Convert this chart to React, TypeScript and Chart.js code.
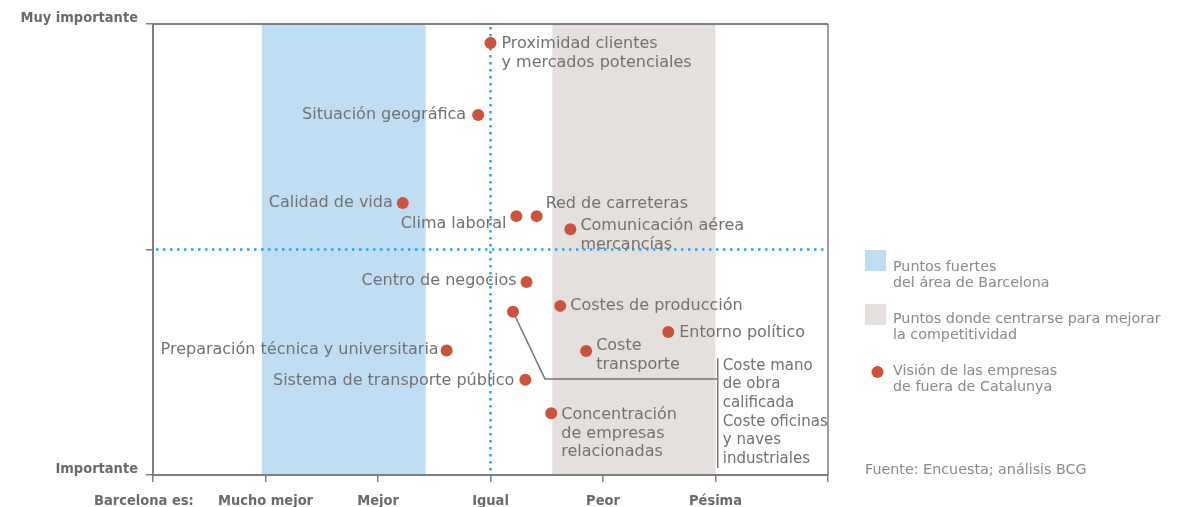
import { useEffect, useRef } from "react";
import { Chart, registerables } from "chart.js";

Chart.register(...registerables);

// ---- data ----
const factors = [
  "Proximidad clientes\ny mercados potenciales",
  "Situación geográfica",
  "Calidad de vida",
  "Clima laboral",
  "Red de carreteras",
  "Comunicación aérea\nmercancías",
  "Centro de negocios",
  "Costes de producción",
  "Coste mano\nde obra\ncalificada\nCoste oficinas\ny naves\nindustriales",
  "Entorno político",
  "Preparación técnica y universitaria",
  "Coste\ntransporte",
  "Sistema de transporte público",
  "Concentración\nde empresas\nrelacionadas",
];
const barcelonaRating = [3.0, 2.89, 2.22, 3.23, 3.41, 3.71, 3.32, 3.62, 3.2, 4.58, 2.61, 3.85, 3.31, 3.54];
const importance = [9.58, 7.98, 6.03, 5.74, 5.74, 5.45, 4.28, 3.75, 3.62, 3.17, 2.76, 2.75, 2.11, 1.37];
const xTickLabels = ["Barcelona es:    ", "Mucho mejor", "Mejor", "Igual", "Peor", "Pésima", ""];
const yTickLabels: Record<number, string> = { 0: "Importante", 5: "", 10: "Muy importante" };
const strengthBand = [0.968, 2.424];
const improveBand = [3.55, 5.0];
const referenceX = 3;
const referenceY = 5;
const legendItems = [
  "Puntos fuertes\ndel área de Barcelona",
  "Puntos donde centrarse para mejorar\nla competitividad",
  "Visión de las empresas\nde fuera de Catalunya",
];
const sourceNote = "Fuente: Encuesta; análisis BCG";

// ---- styles ----
const BLUE = "#c0def3";
const BEIGE = "#e5e0dd";
const DOT = "#cb533e";
const REF = "#2aa7e0";
const AXIS = "#7f7f7f";
const LABEL = "#717171";
const LEGEND = "#8a8a8a";
const LABEL_FONT = '16px "DejaVu Sans", sans-serif';
const CALLOUT_FONT = '15px "DejaVu Sans", sans-serif';
const LEGEND_FONT = '14.3px "DejaVu Sans", sans-serif';
const TICK_FONT_FAMILY = '"DejaVu Sans Condensed", "DejaVu Sans", sans-serif';
const LINE_H = 18.5;

// label placement per point (index-aligned with factors): side, dx, dy (px)
const placement: ({ side: "left" | "right"; dx: number; dy: number } | null)[] = [
  { side: "right", dx: 11, dy: 1 },
  { side: "left", dx: -12, dy: 0 },
  { side: "left", dx: -10, dy: 0 },
  { side: "left", dx: -10, dy: 8 },
  { side: "right", dx: 9, dy: -12 },
  { side: "right", dx: 10, dy: -3 },
  { side: "left", dx: -10, dy: -1 },
  { side: "right", dx: 10, dy: 0 },
  null,
  { side: "right", dx: 11, dy: 1 },
  { side: "left", dx: -8, dy: -1 },
  { side: "right", dx: 10, dy: -5 },
  { side: "left", dx: -11, dy: 1 },
  { side: "right", dx: 10, dy: 2 },
];
// callout for the grouped point (data units)
const CALLOUT_INDEX = 8;
const calloutElbow = { x: 3.484, y: 2.13 };
const calloutBracketX = 5.02;
const calloutBracketY = [2.59, 0.155];
const calloutTextX = 5.065;
const calloutTextY = 2.42;

const overlay = {
  id: "overlay",
  beforeDraw(chart: any) {
    const { ctx, chartArea: a, scales } = chart;
    const x = scales.x;
    ctx.save();
    ctx.fillStyle = BLUE;
    const b0 = x.getPixelForValue(strengthBand[0]);
    const b1 = x.getPixelForValue(strengthBand[1]);
    ctx.fillRect(b0, a.top + 1, b1 - b0, a.bottom - a.top - 2);
    ctx.fillStyle = BEIGE;
    const c0 = x.getPixelForValue(improveBand[0]);
    const c1 = x.getPixelForValue(improveBand[1]);
    ctx.fillRect(c0, a.top + 1, c1 - c0, a.bottom - a.top - 2);
    ctx.restore();
  },
  beforeDatasetsDraw(chart: any) {
    const { ctx, chartArea: a, scales } = chart;
    const x = scales.x;
    const y = scales.y;
    ctx.save();
    // top and right frame
    ctx.strokeStyle = AXIS;
    ctx.lineWidth = 2;
    ctx.beginPath();
    ctx.moveTo(a.left, a.top);
    ctx.lineTo(a.right, a.top);
    ctx.stroke();
    ctx.lineWidth = 1.5;
    ctx.beginPath();
    ctx.moveTo(a.right, a.top);
    ctx.lineTo(a.right, a.bottom);
    ctx.stroke();
    // dotted reference lines
    ctx.strokeStyle = REF;
    ctx.lineWidth = 2.5;
    ctx.setLineDash([2.5, 4.5]);
    const rx = x.getPixelForValue(referenceX);
    ctx.beginPath();
    ctx.moveTo(rx, a.top + 3);
    ctx.lineTo(rx, a.bottom - 1);
    ctx.stroke();
    const ry = y.getPixelForValue(referenceY);
    ctx.beginPath();
    ctx.moveTo(a.left + 3, ry);
    ctx.lineTo(a.right, ry);
    ctx.stroke();
    ctx.setLineDash([]);
    // callout lines
    ctx.strokeStyle = "#777";
    ctx.lineWidth = 1.5;
    const px = x.getPixelForValue(barcelonaRating[CALLOUT_INDEX]);
    const py = y.getPixelForValue(importance[CALLOUT_INDEX]);
    const ex = x.getPixelForValue(calloutElbow.x);
    const ey = y.getPixelForValue(calloutElbow.y);
    const bx = x.getPixelForValue(calloutBracketX);
    ctx.beginPath();
    ctx.moveTo(px, py);
    ctx.lineTo(ex, ey);
    ctx.lineTo(bx, ey);
    ctx.stroke();
    ctx.beginPath();
    ctx.moveTo(bx, y.getPixelForValue(calloutBracketY[0]));
    ctx.lineTo(bx, y.getPixelForValue(calloutBracketY[1]));
    ctx.stroke();
    ctx.restore();
  },
  afterDraw(chart: any) {
    const { ctx, scales } = chart;
    const x = scales.x;
    const y = scales.y;
    ctx.save();
    ctx.font = LABEL_FONT;
    ctx.fillStyle = LABEL;
    ctx.textBaseline = "middle";
    factors.forEach((name, i) => {
      const p = placement[i];
      if (!p) return;
      const px = x.getPixelForValue(barcelonaRating[i]);
      const py = y.getPixelForValue(importance[i]);
      ctx.textAlign = p.side === "left" ? "right" : "left";
      name.split("\n").forEach((line, k) => {
        ctx.fillText(line, px + p.dx, py + p.dy + k * LINE_H);
      });
    });
    // callout text
    ctx.font = CALLOUT_FONT;
    ctx.textAlign = "left";
    const tx = x.getPixelForValue(calloutTextX);
    const ty = y.getPixelForValue(calloutTextY);
    factors[CALLOUT_INDEX].split("\n").forEach((line, k) => {
      ctx.fillText(line, tx, ty + k * 18.6);
    });
    // legend
    const lx = 865;
    const tx2 = 893;
    ctx.font = LEGEND_FONT;
    ctx.fillStyle = BLUE;
    ctx.fillRect(lx, 250, 21, 21);
    ctx.fillStyle = BEIGE;
    ctx.fillRect(lx, 304, 21, 21);
    ctx.fillStyle = DOT;
    ctx.beginPath();
    ctx.arc(877.5, 372, 6, 0, Math.PI * 2);
    ctx.fill();
    ctx.fillStyle = LEGEND;
    const legendY = [267, 319, 371];
    legendItems.forEach((txt, i) => {
      txt.split("\n").forEach((line, k) => {
        ctx.fillText(line, tx2, legendY[i] + k * 16);
      });
    });
    ctx.fillText(sourceNote, lx, 470);
    ctx.restore();
  },
};

export default function App() {
  const ref = useRef<HTMLCanvasElement | null>(null);
  useEffect(() => {
    if (!ref.current) return;
    const chart = new Chart(ref.current, {
      type: "scatter",
      data: {
        datasets: [
          {
            label: "Visión de las empresas de fuera de Catalunya",
            data: barcelonaRating.map((v, i) => ({ x: v, y: importance[i] })),
            backgroundColor: DOT,
            borderWidth: 0,
            pointRadius: 6,
            pointHoverRadius: 6,
          },
        ],
      },
      options: {
        responsive: false,
        animation: false,
        devicePixelRatio: 1,
        layout: { padding: { top: 24, right: 370, left: 0, bottom: 0 } },
        plugins: { legend: { display: false }, tooltip: { enabled: false } },
        scales: {
          x: {
            type: "linear",
            min: 0,
            max: 6,
            afterFit: (s: any) => {
              s.height = 32;
            },
            ticks: {
              stepSize: 1,
              autoSkip: false,
              maxRotation: 0,
              padding: 11,
              color: "#6a6a6a",
              font: { family: TICK_FONT_FAMILY, size: 14.5, weight: "bold" },
              callback: (v: any) => xTickLabels[Math.round(Number(v))] ?? "",
            },
            grid: { drawOnChartArea: false, drawTicks: true, tickLength: 7, color: AXIS, lineWidth: 1.5 },
            border: { display: true, color: AXIS, width: 2 },
          },
          y: {
            type: "linear",
            min: 0,
            max: 10,
            afterFit: (s: any) => {
              s.width = 153;
            },
            ticks: {
              stepSize: 5,
              padding: 8,
              labelOffset: -6,
              color: "#6a6a6a",
              font: { family: TICK_FONT_FAMILY, size: 14.5, weight: "bold" },
              callback: (v: any) => yTickLabels[Number(v)] ?? "",
            },
            grid: { drawOnChartArea: false, drawTicks: true, tickLength: 7, color: AXIS, lineWidth: 1.5 },
            border: { display: true, color: AXIS, width: 2 },
          },
        },
      },
      plugins: [overlay],
    });
    return () => chart.destroy();
  }, []);
  return (
    <div style={{ position: "fixed", left: 0, top: 0, width: 1198, height: 507, background: "#fff" }}>
      <canvas ref={ref} width={1198} height={507} style={{ width: 1198, height: 507 }} />
    </div>
  );
}
